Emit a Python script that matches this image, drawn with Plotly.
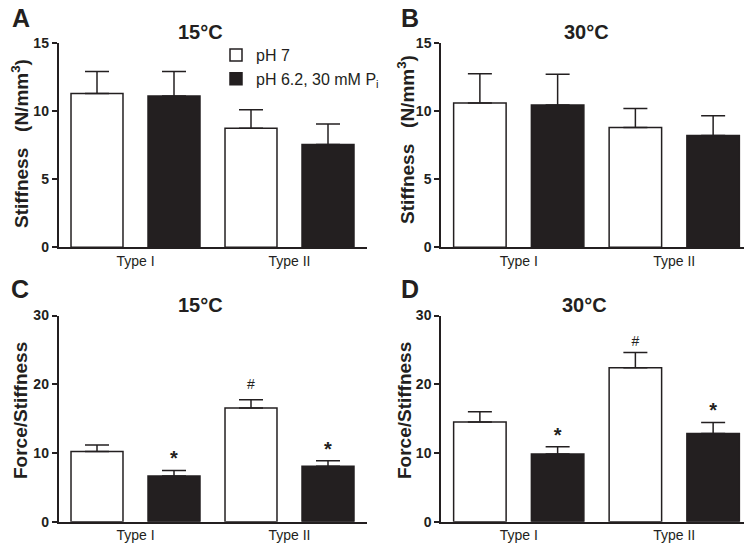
import plotly.graph_objects as go

# ---------------- data ----------------
categories = ["Type I", "Type II"]
series_names = ["pH 7", "pH 6.2, 30 mM P<sub>i</sub>"]

# Panel A: stiffness at 15 C
stiff15_ph7 = [11.3, 8.75]
stiff15_ph7_sem = [1.6, 1.35]
stiff15_acid = [11.1, 7.55]
stiff15_acid_sem = [1.8, 1.5]

# Panel B: stiffness at 30 C
stiff30_ph7 = [10.6, 8.8]
stiff30_ph7_sem = [2.15, 1.4]
stiff30_acid = [10.45, 8.2]
stiff30_acid_sem = [2.25, 1.45]

# Panel C: force/stiffness at 15 C
fs15_ph7 = [10.2, 16.55]
fs15_ph7_sem = [0.95, 1.2]
fs15_acid = [6.65, 8.05]
fs15_acid_sem = [0.8, 0.8]

# Panel D: force/stiffness at 30 C
fs30_ph7 = [14.5, 22.4]
fs30_ph7_sem = [1.5, 2.2]
fs30_acid = [9.85, 12.85]
fs30_acid_sem = [1.05, 1.6]

# significance markers
fs_ph7_marks = ["", "#"]
fs_acid_marks = ["*", "*"]

ytick_stiff = [0, 5, 10, 15]
ytick_fs = [0, 10, 20, 30]

# ---------------- styling ----------------
FONT = "Liberation Sans, Arial, Helvetica, sans-serif"
DARK = "#231f20"
W, H = 752, 547          # target window
OFF = 8                  # page body margin offset
FW, FH = W - OFF, H - OFF
NB = "\u00a0"


def px(x):
    return (x - OFF) / FW


def py(y):
    return 1 - (y - OFF) / FH


stiff_title = "Stiffness" + NB * 3 + "(N/mm<sup>3</sup>)"

panels = [
    dict(ax="x", ay="y", ph7=stiff15_ph7, ph7e=stiff15_ph7_sem, acid=stiff15_acid, acide=stiff15_acid_sem,
         yt=ytick_stiff, dom_x=[58.5, 366.5], dom_y=[247.3, 43], title="15°C", tpos=(200, 32),
         letter="A", lpos=(21, 18), ytitle=stiff_title, ypos=(20, 144),
         marks=False, legend=True, hash_size=6),
    dict(ax="x2", ay="y2", ph7=stiff30_ph7, ph7e=stiff30_ph7_sem, acid=stiff30_acid, acide=stiff30_acid_sem,
         yt=ytick_stiff, dom_x=[441, 752], dom_y=[247.3, 43], title="30°C", tpos=(586, 32),
         letter="B", lpos=(410, 18), ytitle=stiff_title, ypos=(406, 140),
         marks=False, legend=False, hash_size=6),
    dict(ax="x3", ay="y3", ph7=fs15_ph7, ph7e=fs15_ph7_sem, acid=fs15_acid, acide=fs15_acid_sem,
         yt=ytick_fs, dom_x=[58.5, 366.5], dom_y=[521.7, 315.5], title="15°C", tpos=(200, 305),
         letter="C", lpos=(20, 289), ytitle="Force/Stiffness", ypos=(20, 411),
         marks=True, legend=False, hash_size=10),
    dict(ax="x4", ay="y4", ph7=fs30_ph7, ph7e=fs30_ph7_sem, acid=fs30_acid, acide=fs30_acid_sem,
         yt=ytick_fs, dom_x=[441, 752], dom_y=[521.7, 315.5], title="30°C", tpos=(584, 305),
         letter="D", lpos=(410, 289), ytitle="Force/Stiffness", ypos=(404, 411),
         marks=True, legend=False, hash_size=4),
]

fig = go.Figure()
annotations = []
layout_axes = {}

bar_ticks = [i + o for i in range(len(categories)) for o in (-0.25, 0.25)]

for k, p in enumerate(panels):
    for name, vals, errs, fill in [
        (series_names[0], p["ph7"], p["ph7e"], "white"),
        (series_names[1], p["acid"], p["acide"], DARK),
    ]:
        fig.add_trace(go.Bar(
            x=categories, y=vals, name=name,
            xaxis=p["ax"], yaxis=p["ay"],
            marker=dict(color=fill, line=dict(color=DARK, width=1.5)),
            error_y=dict(type="data", array=errs, arrayminus=[0] * len(errs), symmetric=False,
                         color=DARK, thickness=1.5, width=12),
            showlegend=p["legend"], legendgroup=name, hoverinfo="skip",
        ))
    if p["marks"]:
        tops_ph7 = [v + e for v, e in zip(p["ph7"], p["ph7e"])]
        tops_acid = [v + e for v, e in zip(p["acid"], p["acide"])]
        fig.add_trace(go.Scatter(
            x=categories, y=tops_ph7, text=fs_ph7_marks, mode="markers+text",
            textposition="top center", xaxis=p["ax"], yaxis=p["ay"],
            marker=dict(size=p["hash_size"], color="rgba(0,0,0,0)"),
            textfont=dict(family=FONT, size=14, color=DARK),
            showlegend=False, hoverinfo="skip", cliponaxis=False,
        ))
        fig.add_trace(go.Scatter(
            x=categories, y=tops_acid, text=fs_acid_marks, mode="text",
            textposition="top center", xaxis=p["ax"], yaxis=p["ay"],
            textfont=dict(family=FONT, size=20, color=DARK, weight="bold"),
            showlegend=False, hoverinfo="skip", cliponaxis=False,
        ))

    xname = "xaxis" if p["ax"] == "x" else "xaxis" + p["ax"][1:]
    yname = "yaxis" if p["ay"] == "y" else "yaxis" + p["ay"][1:]
    layout_axes[xname] = dict(
        type="category", domain=[px(p["dom_x"][0]), min(1.0, px(p["dom_x"][1]))], anchor=p["ay"],
        range=[-0.5, 1.5], showline=True, linecolor=DARK, linewidth=1.5,
        ticks="", tickfont=dict(family=FONT, size=14, color=DARK), showgrid=False, zeroline=False,
        automargin=False,
    )
    layout_axes[yname] = dict(
        domain=[py(p["dom_y"][0]), py(p["dom_y"][1])], anchor=p["ax"],
        range=[p["yt"][0], p["yt"][-1]], tickvals=p["yt"], showline=True, linecolor=DARK, linewidth=1.5,
        ticks="outside", ticklen=5, tickwidth=1.5, tickcolor=DARK,
        tickfont=dict(family=FONT, size=14, color=DARK, weight="bold"),
        showgrid=False, zeroline=False, automargin=False,
    )
    # overlay axis carrying the tick marks at each bar centre
    ov = "xaxis" + str(5 + k)
    layout_axes[ov] = dict(
        overlaying=p["ax"], anchor=p["ay"], range=[-0.5, 1.5], tickvals=bar_ticks,
        showticklabels=False, ticks="outside", ticklen=6, tickwidth=1.5, tickcolor=DARK,
        showline=False, showgrid=False, zeroline=False, automargin=False,
    )

    annotations.append(dict(text="<b>%s</b>" % p["title"], x=px(p["tpos"][0]), y=py(p["tpos"][1]),
                            xref="paper", yref="paper", showarrow=False, xanchor="center", yanchor="middle",
                            font=dict(family=FONT, size=20, color=DARK)))
    annotations.append(dict(text="<b>%s</b>" % p["letter"], x=px(p["lpos"][0]), y=py(p["lpos"][1]),
                            xref="paper", yref="paper", showarrow=False, xanchor="center", yanchor="middle",
                            font=dict(family=FONT, size=25, color=DARK)))
    annotations.append(dict(text="<b>%s</b>" % p["ytitle"], x=px(p["ypos"][0]), y=py(p["ypos"][1]),
                            xref="paper", yref="paper", showarrow=False, xanchor="center", yanchor="middle",
                            textangle=-90, font=dict(family=FONT, size=19, color=DARK)))

fig.update_layout(
    template="none",
    width=FW, height=FH, margin=dict(l=0, r=0, t=0, b=0, pad=0, autoexpand=False),
    paper_bgcolor="white", plot_bgcolor="white",
    barmode="group", bargap=0, bargroupgap=0.325,
    scattermode="group", scattergap=0,
    font=dict(family=FONT, color=DARK),
    legend=dict(x=px(216), y=py(38), xanchor="left", yanchor="top",
                font=dict(family=FONT, size=16, color=DARK), bgcolor="rgba(0,0,0,0)",
                tracegroupgap=0, itemwidth=30),
    annotations=annotations,
    **layout_axes,
)

fig.write_html("out.html")
